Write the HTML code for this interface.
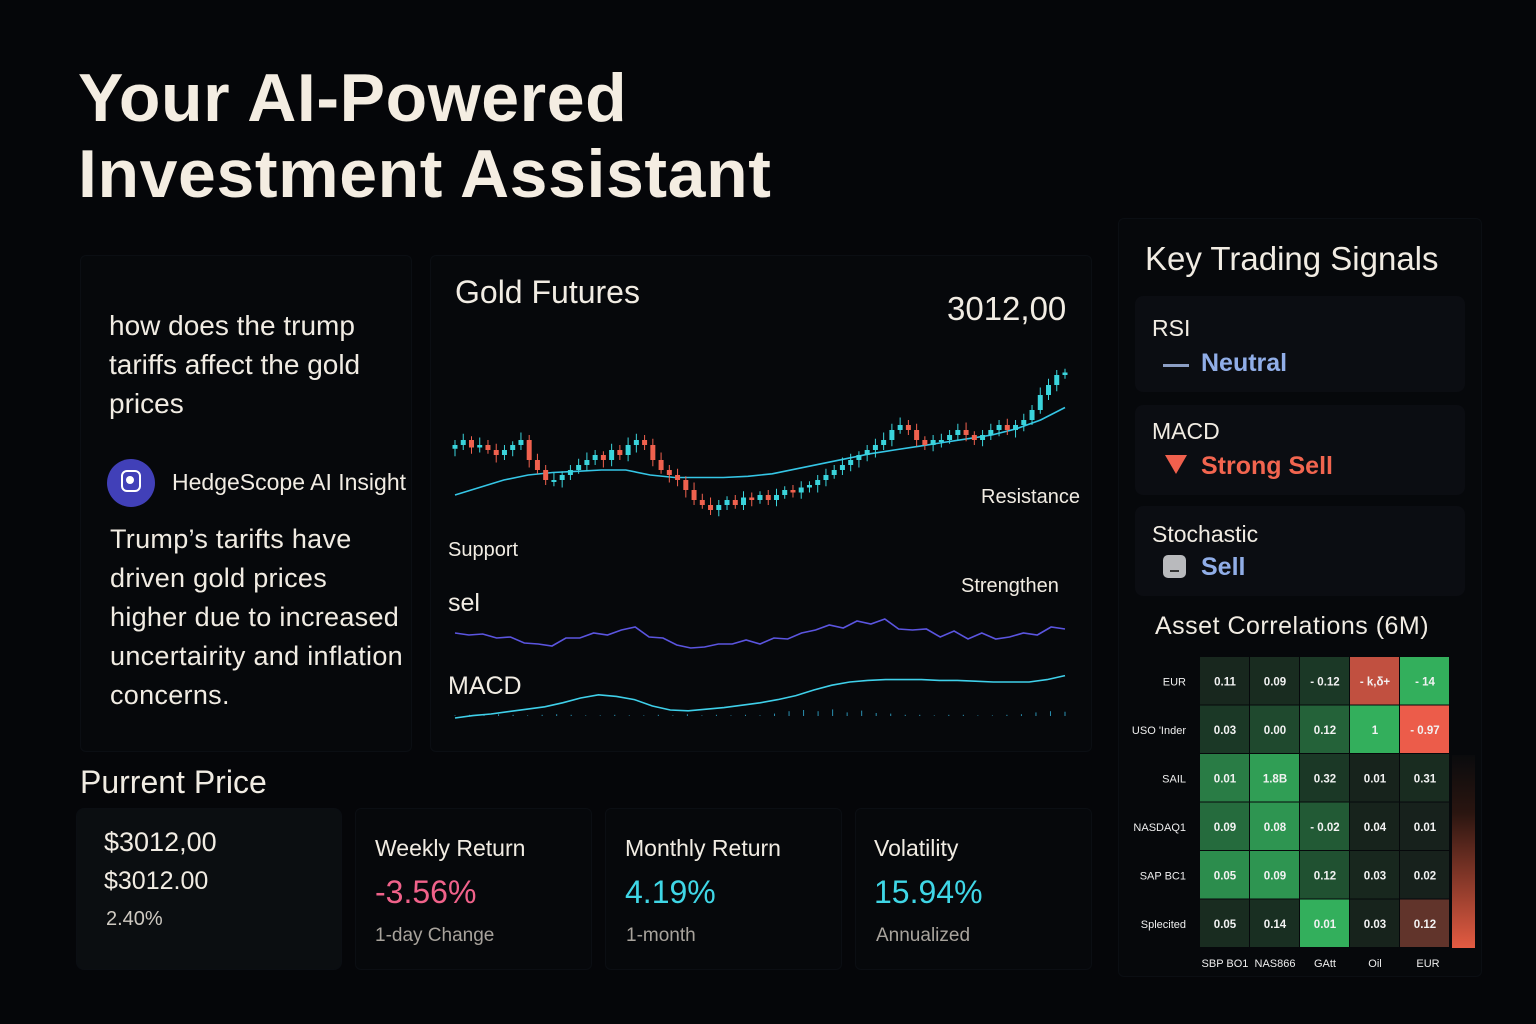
<!DOCTYPE html>
<html><head><meta charset="utf-8">
<style>
html,body{margin:0;padding:0;background:#050609;}
body{width:1536px;height:1024px;position:relative;overflow:hidden;font-family:"Liberation Sans",sans-serif;color:#f1ece3;}
.a{position:absolute;}
.card{position:absolute;background:#06080b;border:1px solid #0b0e13;border-radius:6px;}
.sig{position:absolute;left:1135px;width:330px;background:#0b0d12;border-radius:8px;}
</style></head><body>
<div class="a" style="left:78px;top:60px;font-size:68px;font-weight:bold;line-height:76px;letter-spacing:0.6px;color:#f4ede2;">Your AI-Powered<br>Investment Assistant</div>

<div class="card" style="left:80px;top:255px;width:330px;height:495px;"></div>
<div class="a" style="left:109px;top:306px;font-size:28px;line-height:39px;width:320px;white-space:nowrap;">how does the trump<br>tariffs affect the gold<br>prices</div>
<div class="a" style="left:107px;top:459px;width:48px;height:48px;border-radius:50%;background:#4140b8;">
<div class="a" style="left:14px;top:11px;width:16px;height:18px;border:2px solid #fff;border-radius:6px;"></div>
<div class="a" style="left:19px;top:17px;width:8px;height:8px;border-radius:50%;background:#fff;"></div></div>
<div class="a" style="left:172px;top:469px;font-size:23px;">HedgeScope AI Insight</div>
<div class="a" style="left:110px;top:520px;font-size:27px;line-height:39px;white-space:nowrap;letter-spacing:0.3px;">Trump’s tarifts have<br>driven gold prices<br>higher due to increased<br>uncertairity and inflation<br>concerns.</div>

<div class="card" style="left:430px;top:255px;width:660px;height:495px;"></div>
<div class="a" style="left:455px;top:274px;font-size:32px;">Gold Futures</div>
<div class="a" style="left:947px;top:290px;font-size:33px;">3012,00</div>
<svg class="a" id="chart" style="left:0;top:0" width="1536" height="1024"></svg>
<div class="a" style="left:981px;top:486px;font-size:20px;">Resistance</div>
<div class="a" style="left:448px;top:539px;font-size:20px;">Support</div>
<div class="a" style="left:961px;top:575px;font-size:20px;">Strengthen</div>
<div class="a" style="left:448px;top:589px;font-size:25px;">sel</div>
<div class="a" style="left:448px;top:672px;font-size:25px;">MACD</div>

<div class="a" style="left:80px;top:764px;font-size:32px;">Purrent Price</div>
<div class="card" style="left:76px;top:808px;width:264px;height:160px;background:#0b0e11;border-radius:8px;"></div>
<div class="a" style="left:104px;top:827px;font-size:27px;">$3012,00</div>
<div class="a" style="left:104px;top:867px;font-size:25px;">$3012.00</div>
<div class="a" style="left:106px;top:908px;font-size:20px;color:#cfcac2;">2.40%</div>

<div class="card" style="left:355px;top:808px;width:235px;height:160px;"></div>
<div class="card" style="left:605px;top:808px;width:235px;height:160px;"></div>
<div class="card" style="left:855px;top:808px;width:235px;height:160px;"></div>
<div class="a" style="left:375px;top:835px;font-size:23px;">Weekly Return</div>
<div class="a" style="left:375px;top:874px;font-size:32px;color:#f0628a;">-3.56%</div>
<div class="a" style="left:375px;top:925px;font-size:19px;color:#a8a39c;">1-day Change</div>
<div class="a" style="left:625px;top:835px;font-size:23px;">Monthly Return</div>
<div class="a" style="left:625px;top:874px;font-size:32px;color:#3fd6e6;">4.19%</div>
<div class="a" style="left:626px;top:925px;font-size:19px;color:#a8a39c;">1-month</div>
<div class="a" style="left:874px;top:835px;font-size:23px;">Volatility</div>
<div class="a" style="left:874px;top:874px;font-size:32px;color:#3fd6e6;">15.94%</div>
<div class="a" style="left:876px;top:925px;font-size:19px;color:#a8a39c;">Annualized</div>

<div class="card" style="left:1118px;top:218px;width:362px;height:757px;"></div>
<div class="a" style="left:1145px;top:240px;font-size:33px;">Key Trading Signals</div>
<div class="sig" style="top:296px;height:96px;"></div>
<div class="a" style="left:1152px;top:315px;font-size:23px;">RSI</div>
<div class="a" style="left:1163px;top:364px;width:26px;height:3px;background:#8c9ec4;"></div>
<div class="a" style="left:1201px;top:349px;font-size:25px;font-weight:bold;color:#91aee8;">Neutral</div>
<div class="sig" style="top:405px;height:90px;"></div>
<div class="a" style="left:1152px;top:418px;font-size:23px;">MACD</div>
<div class="a" style="left:1165px;top:455px;width:0;height:0;border-left:11px solid transparent;border-right:11px solid transparent;border-top:19px solid #f0604d;"></div>
<div class="a" style="left:1201px;top:452px;font-size:25px;font-weight:bold;color:#f2654f;">Strong Sell</div>
<div class="sig" style="top:506px;height:90px;"></div>
<div class="a" style="left:1152px;top:521px;font-size:23px;">Stochastic</div>
<div class="a" style="left:1163px;top:555px;width:23px;height:23px;border-radius:5px;background:#b9babd;"><div class="a" style="left:7px;top:15px;width:9px;height:2px;background:#333;"></div></div>
<div class="a" style="left:1201px;top:553px;font-size:25px;font-weight:bold;color:#91aee8;">Sell</div>
<div class="a" style="left:1155px;top:612px;font-size:25px;letter-spacing:0.5px;">Asset Correlations (6M)</div>
<svg class="a" id="heat" style="left:0;top:0" width="1536" height="1024"></svg>

<script>
// ---- candlestick data ----
const closes=[2952,2956,2950,2952,2948,2944,2948,2952,2956,2940,2932,2924,2924,2928,2932,2936,2940,2944,2940,2948,2944,2952,2956,2952,2940,2932,2928,2924,2916,2908,2904,2900,2904,2908,2904,2910,2908,2912,2908,2912,2916,2914,2918,2920,2924,2928,2932,2936,2940,2944,2948,2952,2956,2964,2968,2964,2956,2952,2956,2956,2960,2964,2960,2956,2960,2964,2968,2964,2968,2972,2980,2992,3000,3008,3010];
const maLine=[2912,2918,2924,2928,2930,2931,2932,2932,2928,2926,2926,2926,2927,2929,2933,2937,2941,2945,2948,2951,2954,2957,2960,2965,2972,2982];
const rsiLine=[62,60,61,57,58,52,51,49,57,57,62,60,65,68,58,57,50,47,48,51,51,55,51,57,56,62,65,70,67,74,71,76,66,65,66,58,64,56,62,56,58,62,60,68,66];
const macdLine=[-1.5,-1.2,-1.0,-0.7,-0.4,-0.1,0.4,1.0,1.4,1.2,0.8,0.0,-0.5,-0.6,-0.4,-0.2,0.1,0.4,0.8,1.3,2.0,2.6,3.0,3.2,3.3,3.3,3.3,3.2,3.2,3.1,3.0,3.0,3.0,3.3,3.8];
const macdHist=[0.1,0.2,0.1,0.3,0.2,0.1,0.2,0.3,0.2,0.1,0.1,0.2,0.1,0.1,0.2,0.1,0.3,0.1,0.2,0.1,0.2,0.1,0.4,0.8,1.0,0.8,1.1,0.6,0.9,0.5,0.4,0.2,0.2,0.1,0.2,0.2,0.1,0.1,0.2,0.3,0.6,0.8,0.7];

const NS='http://www.w3.org/2000/svg';
const svg=document.getElementById('chart');
function mk(t,attrs,parent){const e=document.createElementNS(NS,t);for(const k in attrs)e.setAttribute(k,attrs[k]);(parent||svg).appendChild(e);return e;}
const X0=455,X1=1065;
const yP=p=>370+(3012-p)/0.8;
const xI=(i,n)=>X0+(X1-X0)*i/(n-1);
const yR=v=>655-(v-40)*1.0;
const yM=v=>722-(v+2)*8;

// MA
let d='';maLine.forEach((v,i)=>{d+=(i?'L':'M')+xI(i,maLine.length).toFixed(1)+' '+yP(v).toFixed(1);});
const ma=mk('path',{d:d,fill:'none',stroke:'#35c6e6','stroke-width':1.6});



const wick=[4,5,3,6,4,5,4,3,6,4,5,4,6,3,4,5,6,4,3,5,4,6,5,4,5,6,4,5,3,6,5,6,4,3,4,5,4,3,4,5,3,4,5,3,4,5,4,6,5,3,4,5,6,5,6,4,5,3,4,5,4,5,6,3,4,5,4,5,4,5,4,6,5,4,3];
closes.forEach((c,i)=>{
  const o=i?closes[i-1]:c-3;const up=c>=o;const col=up?'#3ad4dc':'#f0614e';
  const x=xI(i,closes.length);
  const hi=Math.max(o,c)+wick[i],lo=Math.min(o,c)-wick[(i+3)%wick.length];
  const w=mk('line',{x1:x,x2:x,y1:yP(hi),y2:yP(lo),stroke:col,'stroke-width':1});
  
  
  const top=yP(Math.max(o,c)),h=Math.max(2,Math.abs(yP(o)-yP(c)));
  const b=mk('rect',{x:x-2.5,y:top,width:5,height:h,fill:col});
  
  
});

d='';rsiLine.forEach((v,i)=>{d+=(i?'L':'M')+xI(i,rsiLine.length).toFixed(1)+' '+yR(v).toFixed(1);});
const rl=mk('path',{d:d,fill:'none',stroke:'#5b55e0','stroke-width':1.6});



macdHist.forEach((v,i)=>{const x=xI(i,macdHist.length);const r=mk('line',{x1:x,x2:x,y1:716,y2:716-v*6,stroke:'#2a8fb0','stroke-width':1});

});
d='';macdLine.forEach((v,i)=>{d+=(i?'L':'M')+xI(i,macdLine.length).toFixed(1)+' '+yM(v).toFixed(1);});
const ml=mk('path',{d:d,fill:'none',stroke:'#3fd0ea','stroke-width':1.6});



// ---- heatmap ----
const rowLabels=['EUR','USO \'Inder','SAIL','NASDAQ1','SAP BC1','Splecited'];
const colLabels=['SBP BO1','NAS866','GAtt','Oil','EUR'];
const cellText=[['0.11','0.09','- 0.12','- k,δ+','- 14'],['0.03','0.00','0.12','1','- 0.97'],['0.01','1.8B','0.32','0.01','0.31'],['0.09','0.08','- 0.02','0.04','0.01'],['0.05','0.09','0.12','0.03','0.02'],['0.05','0.14','0.01','0.03','0.12']];
const strength=[[0.05,0.08,0.15,-0.8,0.85],[0.15,0.25,0.4,0.85,-1],[0.55,0.75,0.15,0.03,0.08],[0.45,0.7,0.35,0.03,0.02],[0.65,0.7,0.3,0.05,0.02],[0.08,0.1,0.85,0.03,-0.35]];
const H=document.getElementById('heat');
function hk(t,attrs){const e=document.createElementNS(NS,t);for(const k in attrs)e.setAttribute(k,attrs[k]);H.appendChild(e);return e;}
const HX=1200,HY=657,CW=50,CH=48.5;
function mix(a,b,t){return 'rgb('+a.map((v,i)=>Math.round(v+(b[i]-v)*t)).join(',')+')';}
strength.forEach((row,r)=>row.forEach((s,c)=>{
  const col=s>=0?mix([22,30,26],[56,200,104],s):mix([22,30,26],[236,92,74],-s);
  const rc=hk('rect',{x:HX+c*CW,y:HY+r*CH,width:CW-1,height:CH-1,fill:col});
  
  
  const t=hk('text',{x:HX+c*CW+CW/2,y:HY+r*CH+CH/2+4,'text-anchor':'middle','font-size':11.5,'font-weight':'bold',fill:'#f2f2f2','font-family':'Liberation Sans'});
  t.textContent=cellText[r][c];
  
  
}));
rowLabels.forEach((l,r)=>{const t=hk('text',{x:1186,y:HY+r*CH+CH/2+4,'text-anchor':'end','font-size':11,fill:'#eee','font-family':'Liberation Sans'});t.textContent=l;

});
colLabels.forEach((l,c)=>{const t=hk('text',{x:HX+c*CW+CW/2+(c==4?3:0),y:967,'text-anchor':'middle','font-size':11,fill:'#eee','font-family':'Liberation Sans'});t.textContent=l;

});
const defs=hk('defs',{});
const g=document.createElementNS(NS,'linearGradient');g.setAttribute('id','sc');g.setAttribute('x1','0');g.setAttribute('y1','0');g.setAttribute('x2','0');g.setAttribute('y2','1');defs.appendChild(g);
[['0','#0a0b0d'],['0.3','#2a1510'],['1','#e35b42']].forEach(s=>{const st=document.createElementNS(NS,'stop');st.setAttribute('offset',s[0]);st.setAttribute('stop-color',s[1]);g.appendChild(st);});
const sb=hk('rect',{x:1452,y:755,width:23,height:193,fill:'url(#sc)'});


</script>
</body></html>
